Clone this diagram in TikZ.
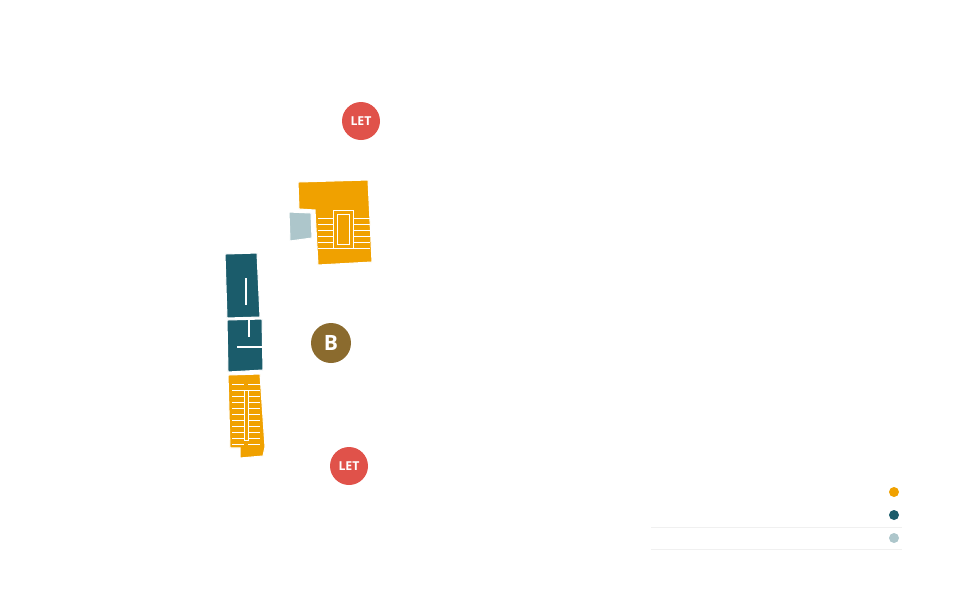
\documentclass[tikz,border=0pt]{standalone}
\usepackage{fontspec}
\setmainfont{Open Sans}
\definecolor{amber}{HTML}{F0A100}
\definecolor{petrol}{HTML}{1B5C6B}
\definecolor{mist}{HTML}{ADC6CB}
\definecolor{letred}{HTML}{E0524A}
\definecolor{bronze}{HTML}{8B6B2E}
\begin{document}
\begin{tikzpicture}[x=0.02cm,y=-0.02cm]
	\tikzstyle{room}=[draw=white,line width=0.6pt]
	\tikzstyle{fine}=[draw=white,line width=0.3pt]
	\tikzstyle{badge}=[circle,minimum size=0.76cm,inner sep=0pt,text=white,font=\bfseries]
	\tikzstyle{key}=[circle,minimum size=0.2cm,inner sep=0pt]
	\useasboundingbox (0,0) rectangle (960,600);

	% blocks
	\fill[amber,room] (298,182) -- (368,180) -- (372,262) -- (318,265) -- (315,210) -- (299,209) -- cycle;
	\fill[mist,room] (289,212) -- (311,213) -- (312,238) -- (290,241) -- cycle;
	\fill[petrol,room] (225,254) -- (257,253) -- (260,317) -- (227,318) -- cycle;
	\fill[petrol,room] (227,320) -- (262,319) -- (263,370) -- (228,372) -- cycle;
	\fill[amber,room] (228,375) -- (260,374) -- (265,447) -- (263,456) -- (240,458) -- (240,448) -- (230,448) -- cycle;

	% fine detail
	\draw[fine] (333,210) rectangle (353,248);
	\draw[fine] (337,214) rectangle (349,244);
	\foreach \y in {218,224,...,248} {
		\draw[fine] (318,\y) -- (333,\y);
		\draw[fine] (353,\y) -- (370,\y);
	}
	\draw[fine] (244,390) rectangle (248,440);
	\foreach \y in {384,390,...,444} {
		\draw[fine] (232,\y) -- (244,\y);
		\draw[fine] (248,\y) -- (260,\y);
	}
	\draw[white,line width=1.5pt] (246,278) -- (246,305);
	\draw[white,line width=1.5pt] (237,347) -- (262,347);
	\draw[white,line width=1.5pt] (249,320) -- (249,337);

	% badges
	\node[badge,fill=letred,font=\bfseries\scriptsize] (let1) at (361,121) {LET};
	\node[badge,fill=bronze,font=\bfseries\large,minimum size=0.8cm] (bay) at (331,343) {B};
	\node[badge,fill=letred,font=\bfseries\scriptsize] (let2) at (349,466) {LET};

	% key
	\node[key,fill=amber] (keycore) at (894,492) {};
	\node[key,fill=petrol] (keywc) at (894,515) {};
	\node[key,fill=mist] (keyplant) at (894,538) {};
	\draw[black!6,line width=0.4pt] (651,527) -- (902,527);
	\draw[black!6,line width=0.4pt] (651,549) -- (902,549);
\end{tikzpicture}
\end{document}
